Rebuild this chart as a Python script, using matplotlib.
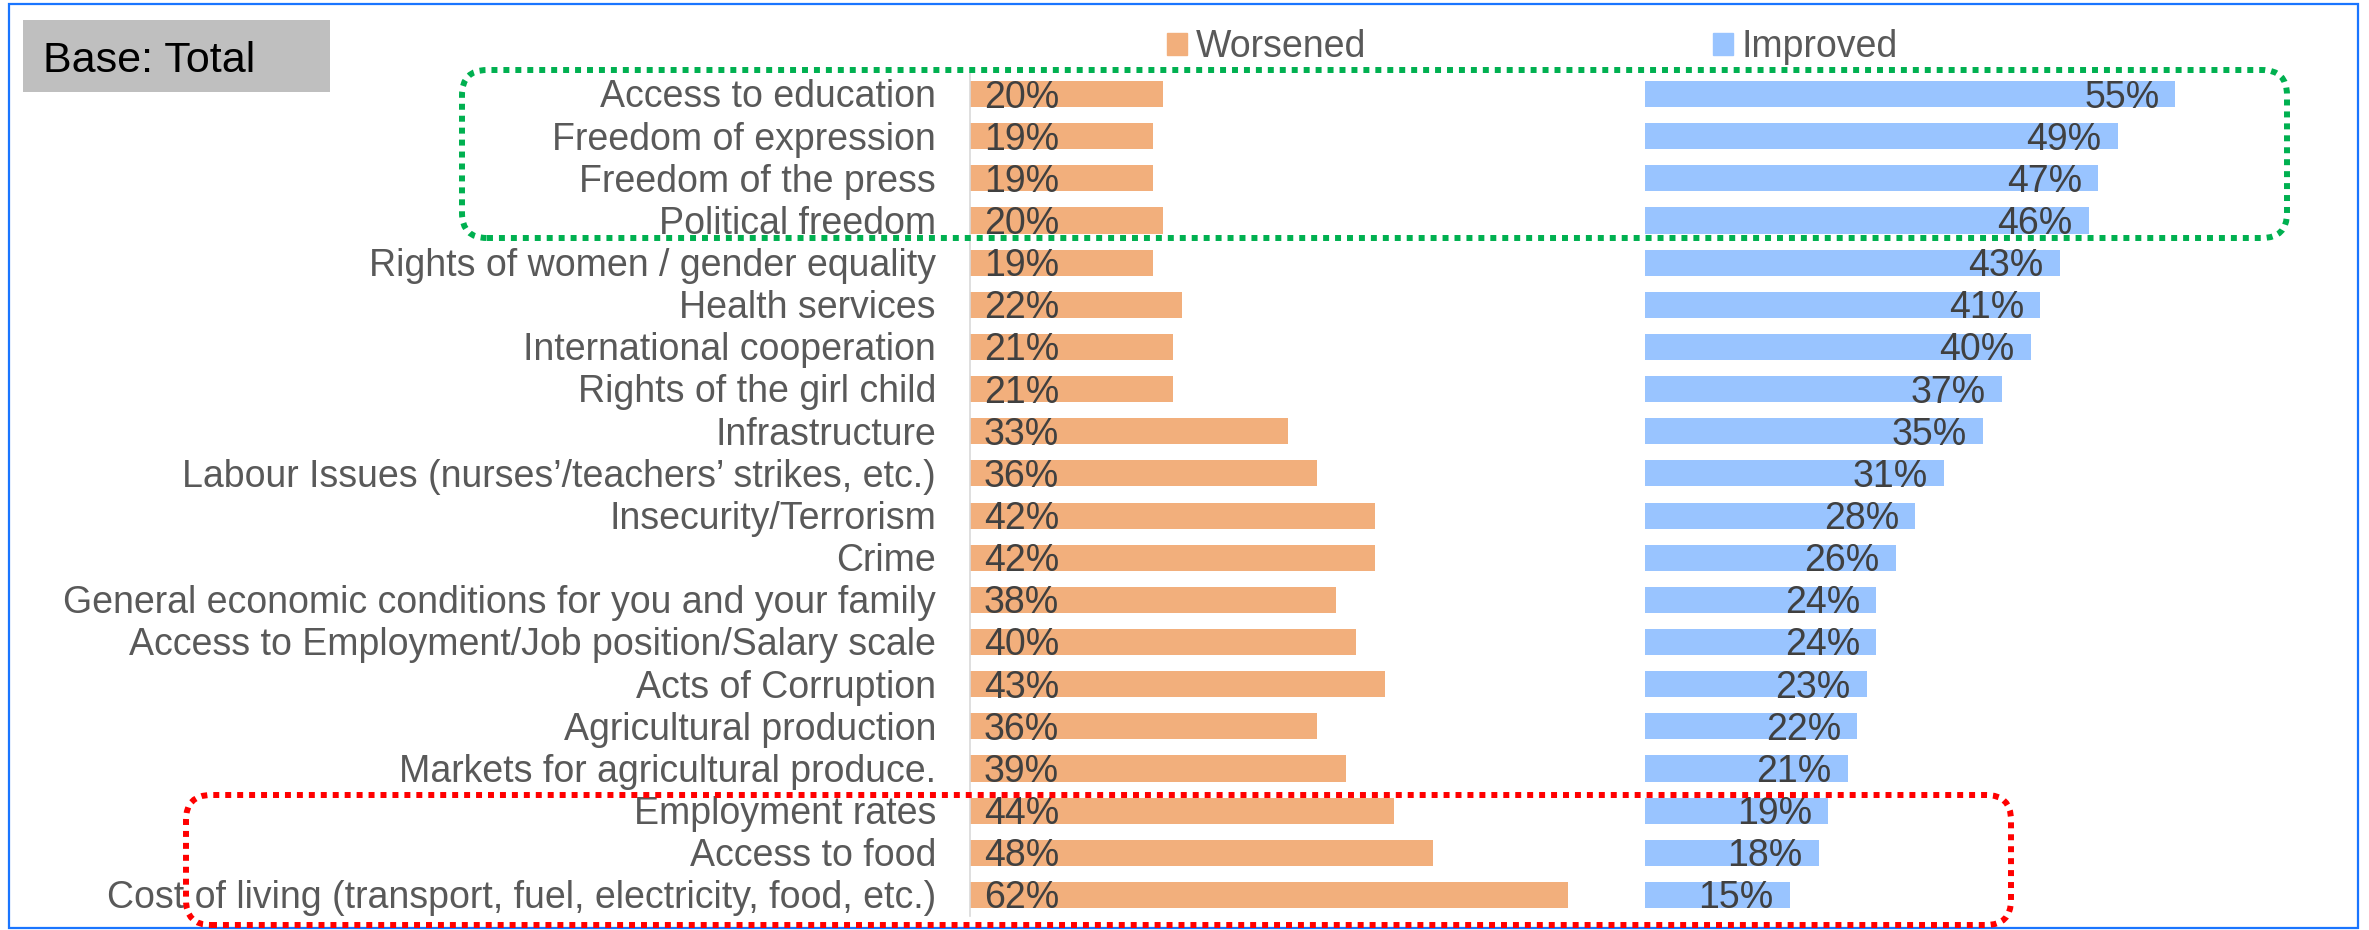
import matplotlib.pyplot as plt
import matplotlib.patches as mpatches
import numpy as np

plt.rcParams['font.family'] = ['Liberation Sans', 'DejaVu Sans']

# Data
categories = [
    "Access to education",
    "Freedom of expression",
    "Freedom of the press",
    "Political freedom",
    "Rights of women / gender equality",
    "Health services",
    "International cooperation",
    "Rights of the girl child",
    "Infrastructure",
    "Labour Issues (nurses\u2019/teachers\u2019 strikes, etc.)",
    "Insecurity/Terrorism",
    "Crime",
    "General economic conditions for you and your family",
    "Access to Employment/Job position/Salary scale",
    "Acts of Corruption",
    "Agricultural production",
    "Markets for agricultural produce.",
    "Employment rates",
    "Access to food",
    "Cost of living (transport, fuel, electricity, food, etc.)",
]
worsened = [20, 19, 19, 20, 19, 22, 21, 21, 33, 36, 42, 42, 38, 40, 43, 36, 39, 44, 48, 62]
improved = [55, 49, 47, 46, 43, 41, 40, 37, 35, 31, 28, 26, 24, 24, 23, 22, 21, 19, 18, 15]

W, H = 2369, 930
c_worse = '#F2AF7C'
c_impr = '#99C4FF'
c_label = '#595959'
c_value = '#404040'

fig = plt.figure(figsize=(W / 100, H / 100), dpi=100)

# two panels sharing the same scale (0-70%)
top_px, bot_px = 73, 916
ax1 = fig.add_axes([970 / W, 1 - bot_px / H, 675 / W, (bot_px - top_px) / H])
ax2 = fig.add_axes([1645 / W, 1 - bot_px / H, 675 / W, (bot_px - top_px) / H])

y = np.arange(len(categories))
ax1.barh(y, worsened, height=0.62, color=c_worse)
ax2.barh(y, improved, height=0.62, color=c_impr)

for ax in (ax1, ax2):
    ax.set_xlim(0, 70)
    ax.set_ylim(len(categories) - 0.5, -0.5)
    ax.set_xticks([])
    ax.set_yticks([])
    for s in ax.spines.values():
        s.set_visible(False)
ax1.spines['left'].set_visible(True)
ax1.spines['left'].set_color('#D9D9D9')
ax1.spines['left'].set_linewidth(1.2)

# category labels
for i, cat in enumerate(categories):
    ax1.annotate(cat, (0, i), xytext=(-24.5, -9.6), textcoords='offset points',
                 ha='right', va='baseline', fontsize=27, color=c_label,
                 annotation_clip=False)

# value labels
for i, v in enumerate(worsened):
    ax1.annotate(f'{v}%', (0, i), xytext=(10, -9.7), textcoords='offset points',
                 ha='left', va='baseline', fontsize=27, color=c_value)
for i, v in enumerate(improved):
    ax2.annotate(f'{v}%', (v, i), xytext=(-11.5, -9.7), textcoords='offset points',
                 ha='right', va='baseline', fontsize=27, color=c_value)

# legends
leg_kw = dict(frameon=False, loc='center left', borderpad=0, borderaxespad=0,
              handlelength=0.52, handleheight=0.52, handletextpad=0.25,
              fontsize=27, labelcolor=c_label)
fig.legend(handles=[mpatches.Patch(color=c_worse, label='Worsened')],
           bbox_to_anchor=(1167 / W, 1 - 47 / H), **leg_kw)
fig.legend(handles=[mpatches.Patch(color=c_impr, label='Improved')],
           bbox_to_anchor=(1713 / W, 1 - 47 / H), **leg_kw)

inch = fig.dpi_scale_trans

# "Base: Total" box
fig.add_artist(mpatches.Rectangle((0.23, (H - 92) / 100), 3.07, 0.72,
                                  transform=inch, facecolor='#BFBFBF', edgecolor='none'))
fig.text(0.43, (H - 72) / 100, 'Base: Total', transform=inch, fontsize=31,
         color='black', va='baseline', ha='left')

# highlight boxes
def dotted_box(x0, y0, x1, y1, color):
    box = mpatches.FancyBboxPatch((x0 / 100, (H - y1) / 100), (x1 - x0) / 100, (y1 - y0) / 100,
                                  boxstyle='round,pad=0,rounding_size=0.25', transform=inch,
                                  fill=False, edgecolor=color, linewidth=4.3,
                                  linestyle=(0, (1, 1)), zorder=5)
    box.set_capstyle('butt')
    fig.add_artist(box)

dotted_box(462, 70, 2287, 238, '#00B050')
dotted_box(186, 795, 2011, 925, '#FF0000')

# outer blue frame
fig.add_artist(mpatches.Rectangle((0.09, (H - 928) / 100), 23.49, 9.24, transform=inch,
                                  fill=False, edgecolor='#1A75FF', linewidth=1.6))

fig.savefig('out.png', dpi=100)
